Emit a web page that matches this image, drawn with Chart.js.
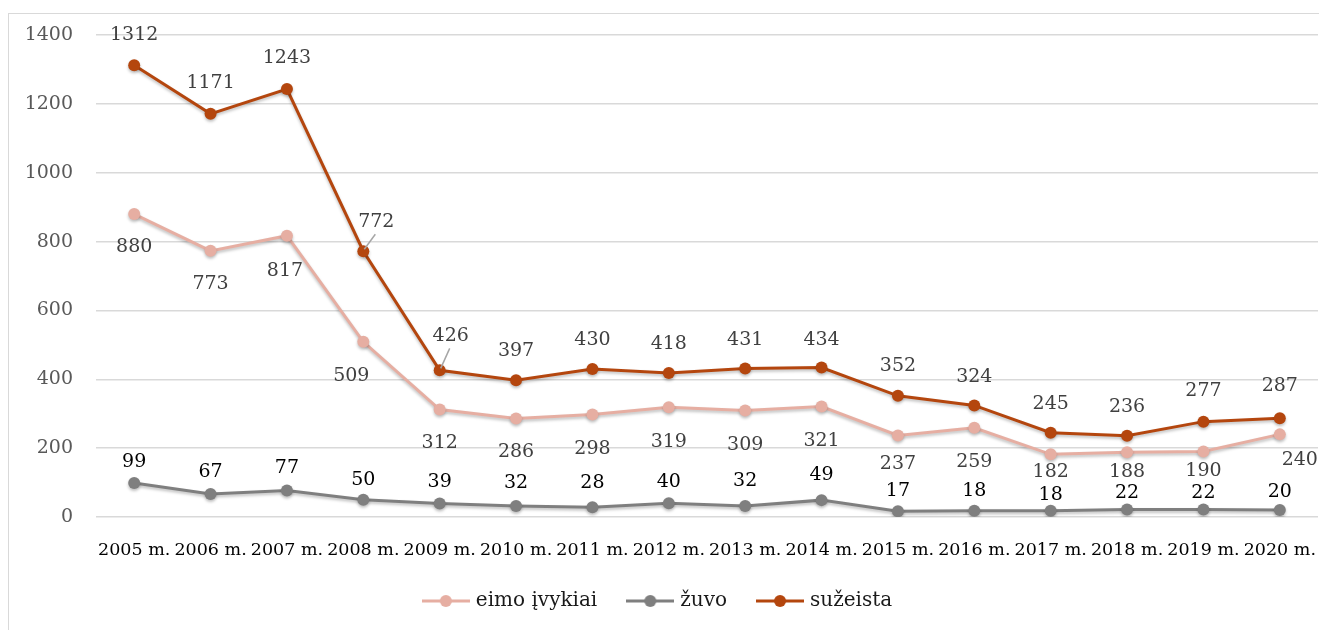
<!DOCTYPE html>
<html>
<head>
<meta charset="utf-8">
<script src="https://cdn.jsdelivr.net/npm/chart.js@4"></script>
<style>
  body { margin: 0; background: #fff; }
  #wrap { width: 1319px; height: 630px; }
</style>
</head>
<body>
<div id="wrap"><canvas id="myChart"></canvas></div>
<script>
// Data
const years = ['2005 m.', '2006 m.', '2007 m.', '2008 m.', '2009 m.', '2010 m.', '2011 m.', '2012 m.',
    '2013 m.', '2014 m.', '2015 m.', '2016 m.', '2017 m.', '2018 m.', '2019 m.', '2020 m.'];
const eimoIvykiai = [880, 773, 817, 509, 312, 286, 298, 319, 309, 321, 237, 259, 182, 188, 190, 240];
const zuvo = [99, 67, 77, 50, 39, 32, 28, 40, 32, 49, 17, 18, 18, 22, 22, 20];
const suzeista = [1312, 1171, 1243, 772, 426, 397, 430, 418, 431, 434, 352, 324, 245, 236, 277, 287];
const yTicks = [0, 200, 400, 600, 800, 1000, 1200, 1400];

// Label placement (pixels from the point)
const eimoDx = [0, 0, -2, -12, 0, 0, 0, 0, 0, 0, 0, 0, 0, 0, 0, 20];
const eimoDy = [33, 33, 35, 34, 33, 34, 35, 35, 34, 35, 29, 34, 18, 20, 19, 26];
const zuvoDy = [-21, -22, -22, -20, -22, -23, -24, -21, -25, -25, -20, -20, -16, -16, -16, -18];
const suzDx = [0, 0, 0, 13, 11, 0, 0, 0, 0, 0, 0, 0, 0, 0, 0, 0];
const suzDy = [-30, -31, -31, -29, -34, -29, -29, -29, -29, -28, -30, -28, -29, -29, -31, -32];

const serif = "'DejaVu Serif', serif";
Chart.defaults.font.family = serif;
Chart.defaults.font.size = 19;

function legendIcon(color) {
    const c = document.createElement('canvas');
    c.width = 48;
    c.height = 14;
    const g = c.getContext('2d');
    g.strokeStyle = color;
    g.lineWidth = 3;
    g.beginPath();
    g.moveTo(0, 7);
    g.lineTo(48, 7);
    g.stroke();
    g.fillStyle = color;
    g.beginPath();
    g.arc(24, 7, 6, 0, Math.PI * 2);
    g.fill();
    return c;
}

// white background + light frame
const framePlugin = {
    id: 'frame',
    beforeDraw(chart) {
        const ctx = chart.ctx;
        ctx.save();
        ctx.fillStyle = '#fff';
        ctx.fillRect(0, 0, chart.width, chart.height);
        ctx.strokeStyle = '#d9d9d9';
        ctx.lineWidth = 1;
        ctx.strokeRect(8.5, 13.5, chart.width + 10, chart.height + 10);
        ctx.restore();
    }
};

// keep the legend box short so it sits low like the original
const legendFitPlugin = {
    id: 'legendFit',
    afterInit(chart) {
        const legend = chart.legend;
        const fit = legend.fit.bind(legend);
        legend.fit = function () {
            fit();
            this.height = 72;
        };
    }
};

// soft shadow under lines
const shadowPlugin = {
    id: 'shadow',
    beforeDatasetDraw(chart) {
        const ctx = chart.ctx;
        ctx.save();
        ctx.shadowColor = 'rgba(0,0,0,0.25)';
        ctx.shadowBlur = 3;
        ctx.shadowOffsetY = 2;
    },
    afterDatasetDraw(chart) {
        chart.ctx.restore();
    }
};

// value labels
const labelPlugin = {
    id: 'valueLabels',
    afterDatasetsDraw(chart) {
        const ctx = chart.ctx;
        const place = [
            { dx: eimoDx, dy: eimoDy, color: '#404040' },
            { dx: null, dy: zuvoDy, color: '#000000' },
            { dx: suzDx, dy: suzDy, color: '#404040' }
        ];
        ctx.save();
        ctx.font = '19px ' + serif;
        ctx.textAlign = 'center';
        ctx.textBaseline = 'middle';
        chart.data.datasets.forEach((ds, di) => {
            const meta = chart.getDatasetMeta(di);
            const p = place[di];
            meta.data.forEach((pt, i) => {
                const dx = p.dx ? p.dx[i] : 0;
                const x = pt.x + dx;
                const y = pt.y + p.dy[i];
                // leader lines for labels moved off the point
                if (di === 2 && dx > 5) {
                    ctx.strokeStyle = '#a6a6a6';
                    ctx.lineWidth = 1.5;
                    ctx.beginPath();
                    ctx.moveTo(pt.x + 1, pt.y - 2);
                    ctx.lineTo(x - 1, y + 12);
                    ctx.stroke();
                }
                ctx.fillStyle = p.color;
                ctx.fillText(ds.data[i], x, y);
            });
        });
        ctx.restore();
    }
};

const defaultLabels = Chart.defaults.plugins.legend.labels.generateLabels;

const ctx = document.getElementById('myChart').getContext('2d');
const myChart = new Chart(ctx, {
    type: 'line',
    data: {
        labels: years,
        datasets: [{
            label: 'eimo įvykiai',
            data: eimoIvykiai,
            borderColor: '#E6AEA2',
            backgroundColor: '#E6AEA2'
        }, {
            label: 'žuvo',
            data: zuvo,
            borderColor: '#7F7F7F',
            backgroundColor: '#7F7F7F'
        }, {
            label: 'sužeista',
            data: suzeista,
            borderColor: '#B4460E',
            backgroundColor: '#B4460E'
        }]
    },
    options: {
        responsive: true,
        maintainAspectRatio: false,
        animation: false,
        layout: { autoPadding: false, padding: { top: 35, right: 1, bottom: 0, left: 0 } },
        elements: {
            line: { borderWidth: 3, tension: 0 },
            point: { radius: 6, hoverRadius: 6, borderWidth: 0 }
        },
        scales: {
            x: {
                offset: true,
                grid: { display: false },
                border: { display: false },
                ticks: {
                    color: '#000',
                    font: { family: serif, size: 17.5 },
                    padding: 15,
                    maxRotation: 0,
                    autoSkip: false
                },
                afterFit(scale) {
                    scale.height = 41;
                    scale.paddingLeft = 0;
                    scale.paddingRight = 0;
                }
            },
            y: {
                min: 0,
                max: 1400,
                afterBuildTicks(scale) { scale.ticks = yTicks.map(v => ({ value: v })); },
                grid: { color: '#d9d9d9', lineWidth: 1.5, drawTicks: false },
                border: { display: false },
                ticks: {
                    color: '#595959',
                    font: { family: serif, size: 19 },
                    padding: 23,
                    callback: (v) => String(v)
                },
                afterFit(scale) { scale.width = 96; }
            }
        },
        plugins: {
            tooltip: { enabled: false },
            legend: {
                position: 'bottom',
                labels: {
                    usePointStyle: true,
                    pointStyleWidth: 40,
                    padding: 33,
                    color: '#1a1a1a',
                    font: { family: serif, size: 20 },
                    generateLabels(chart) {
                        const items = defaultLabels(chart);
                        items.forEach((it, i) => {
                            it.pointStyle = legendIcon(chart.data.datasets[i].borderColor);
                        });
                        return items;
                    }
                }
            }
        }
    },
    plugins: [framePlugin, legendFitPlugin, shadowPlugin, labelPlugin]
});
</script>
</body>
</html>
